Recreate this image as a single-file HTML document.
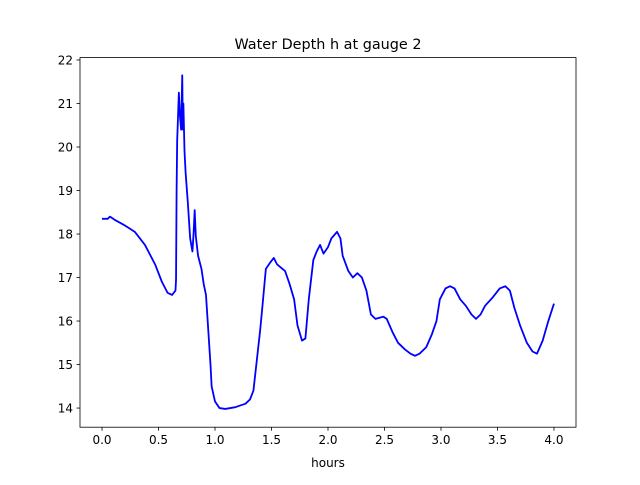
<!DOCTYPE html>
<html><head><meta charset="utf-8"><style>
body{margin:0;background:#fff}
svg text{font-family:"DejaVu Sans","Liberation Sans",sans-serif;fill:#000}
</style></head><body>
<svg id="chart" width="640" height="480" xmlns="http://www.w3.org/2000/svg">
<rect width="640" height="480" fill="#fff"/>
<text x="328" y="49" font-size="14.4" text-anchor="middle">Water Depth h at gauge 2</text>
<g id="xt"></g>
<g id="yt"></g>
<path id="line" fill="none" stroke="#0000ff" stroke-width="1.8" stroke-linejoin="round"/>
<rect x="80" y="57.6" width="496" height="369.6" fill="none" stroke="#000" stroke-width="0.8"/>
<text x="328" y="467" font-size="12" text-anchor="middle">hours</text>
</svg>
<script>
const times=[0,0.05,0.07,0.11,0.2,0.29,0.38,0.47,0.53,0.58,0.62,0.65,0.655,0.66,0.665,0.67,0.68,0.69,0.70,0.71,0.715,0.72,0.73,0.74,0.76,0.78,0.80,0.81,0.82,0.83,0.85,0.87,0.88,0.90,0.92,0.94,0.96,0.97,1.0,1.04,1.09,1.18,1.27,1.31,1.34,1.37,1.40,1.42,1.45,1.49,1.52,1.55,1.62,1.66,1.70,1.73,1.77,1.80,1.83,1.87,1.90,1.93,1.96,2.00,2.03,2.08,2.11,2.13,2.18,2.22,2.26,2.30,2.34,2.38,2.42,2.49,2.52,2.57,2.62,2.68,2.73,2.77,2.81,2.87,2.92,2.96,2.99,3.04,3.08,3.12,3.17,3.22,3.27,3.31,3.35,3.39,3.46,3.52,3.57,3.61,3.65,3.70,3.76,3.81,3.85,3.90,3.95,4.0];
const depths=[18.35,18.35,18.4,18.33,18.2,18.05,17.75,17.3,16.9,16.65,16.6,16.7,16.95,19.0,20.15,20.5,21.25,20.7,20.4,21.65,20.4,21.0,19.9,19.4,18.7,17.9,17.6,18.0,18.55,17.95,17.5,17.3,17.2,16.85,16.6,15.8,15.0,14.5,14.15,14.0,13.98,14.02,14.1,14.2,14.4,15.1,15.8,16.35,17.2,17.35,17.45,17.3,17.15,16.85,16.5,15.9,15.55,15.6,16.5,17.4,17.6,17.75,17.55,17.7,17.9,18.05,17.9,17.5,17.15,17.0,17.1,17.0,16.7,16.15,16.05,16.1,16.05,15.75,15.5,15.35,15.25,15.2,15.25,15.4,15.7,16.0,16.5,16.75,16.8,16.75,16.5,16.35,16.15,16.05,16.15,16.35,16.55,16.75,16.8,16.7,16.3,15.9,15.5,15.3,15.25,15.55,16.0,16.4];
const xTicks=[0,0.5,1,1.5,2,2.5,3,3.5,4];
const xTickLabels=["0.0","0.5","1.0","1.5","2.0","2.5","3.0","3.5","4.0"];
const yTicks=[14,15,16,17,18,19,20,21,22];
const NS="http://www.w3.org/2000/svg";
const L=80,R=576,T=57.6,B=427.2;
const xmin=-0.195,xmax=4.195,ymin=13.56,ymax=22.055;
const sx=v=>L+(v-xmin)/(xmax-xmin)*(R-L);
const sy=v=>B-(v-ymin)/(ymax-ymin)*(B-T);
const xt=document.getElementById('xt'),yt=document.getElementById('yt');
xTicks.forEach((v,i)=>{
 const x=sx(v);
 const l=document.createElementNS(NS,'line');
 l.setAttribute('x1',x);l.setAttribute('x2',x);l.setAttribute('y1',B);l.setAttribute('y2',B+3.5);l.setAttribute('stroke','#000');l.setAttribute('stroke-width','0.8');
 
 
 xt.appendChild(l);
 const t=document.createElementNS(NS,'text');
 t.setAttribute('x',x);t.setAttribute('y',B+17);t.setAttribute('font-size','12');t.setAttribute('text-anchor','middle');
 t.textContent=xTickLabels[i];
 
 
 xt.appendChild(t);
});
yTicks.forEach(v=>{
 const y=sy(v);
 const l=document.createElementNS(NS,'line');
 l.setAttribute('x1',L-3.5);l.setAttribute('x2',L);l.setAttribute('y1',y);l.setAttribute('y2',y);l.setAttribute('stroke','#000');l.setAttribute('stroke-width','0.8');
 
 
 yt.appendChild(l);
 const t=document.createElementNS(NS,'text');
 t.setAttribute('x',L-7);t.setAttribute('y',y+4.5);t.setAttribute('font-size','12');t.setAttribute('text-anchor','end');
 t.textContent=String(v);
 
 
 yt.appendChild(t);
});
document.getElementById('line').setAttribute('d',times.map((t,i)=>(i?'L':'M')+sx(t).toFixed(2)+','+sy(depths[i]).toFixed(2)).join(''));
</script>
</body></html>
